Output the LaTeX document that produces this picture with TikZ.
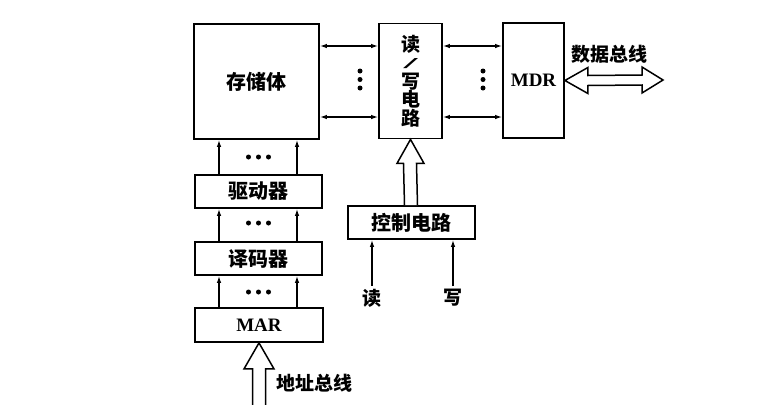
\documentclass[tikz,border=0pt]{standalone}
\usepackage{fontspec}
\setmainfont{Liberation Serif}
\newfontfamily\cjk{Noto Sans CJK SC}
\usetikzlibrary{arrows.meta,calc}
\begin{document}
\begin{tikzpicture}[x=1pt,y=-1pt,
  box/.style={draw,line width=1.8pt,inner sep=0pt,font=\cjk\bfseries\fontsize{20}{22}\selectfont},
  lbl/.style={font=\cjk\bfseries\fontsize{19}{21}\selectfont,inner sep=0pt},
  latin/.style={font=\bfseries\fontsize{19}{21}\selectfont},
  arr/.style={line width=1.2pt,-{Latex[length=7pt,width=4.5pt]}},
  barr/.style={line width=1.2pt,{Latex[length=7pt,width=4.5pt]}-{Latex[length=7pt,width=4.5pt]}},
  hollow/.style={draw,line width=1.5pt,line join=miter,fill=white},
  dot/.style={fill,circle,inner sep=0pt,minimum size=5pt}]
\useasboundingbox (0,0) rectangle (780,410);
% boxes
\node[box,minimum width=125pt,minimum height=115pt] (mem) at (256.5,81.5) {存储体};
\node[box,minimum width=63pt,minimum height=115pt,align=center,
      font=\cjk\bfseries\fontsize{19}{18.5}\selectfont] (rw) at (410.5,81)
  {读\\\raisebox{1pt}{\resizebox{14pt}{10pt}{\normalfont\bfseries /}}\\写\\电\\路};
\node[box,minimum width=61pt,minimum height=115pt,latin] (mdr) at (533.5,80.5) {MDR};
\node[box,minimum width=127pt,minimum height=33pt] (drv) at (258.5,191.5) {驱动器};
\node[box,minimum width=127pt,minimum height=33pt] (dec) at (258.5,258.5) {译码器};
\node[box,minimum width=128pt,minimum height=34pt,latin] (mar) at (259,325) {MAR};
\node[box,minimum width=127pt,minimum height=33pt] (ctl) at (411.5,222.5) {控制电路};
% row / column coordinates
\coordinate (r1) at (0,46);
\coordinate (r2) at (0,117);
\coordinate (c1) at (219,0);
\coordinate (c2) at (297,0);
% horizontal bidirectional arrows
\draw[barr] (mem.east |- r1) -- (rw.west |- r1);
\draw[barr] (mem.east |- r2) -- (rw.west |- r2);
\draw[barr] (rw.east |- r1) -- (mdr.west |- r1);
\draw[barr] (rw.east |- r2) -- (mdr.west |- r2);
% vertical dots
\foreach \yy in {71,79.5,88}{
  \node[dot] (vd1) at (360,\yy) {};
  \node[dot] (vd2) at (483,\yy) {};
}
% vertical arrows in left column
\draw[arr] (drv.north -| c1) -- (mem.south -| c1);
\draw[arr] (drv.north -| c2) -- (mem.south -| c2);
\draw[arr] (dec.north -| c1) -- (drv.south -| c1);
\draw[arr] (dec.north -| c2) -- (drv.south -| c2);
\draw[arr] (mar.north -| c1) -- (dec.south -| c1);
\draw[arr] (mar.north -| c2) -- (dec.south -| c2);
% horizontal dots
\foreach \yy in {157,223,292}{
  \foreach \xx in {248.5,258.5,268.5}{
    \node[dot] (hd) at (\xx,\yy) {};
  }
}
% hollow arrow control -> rw
\draw[hollow] ($(ctl.north)+(-7,0)$) -- ($(rw.south)+(-7,24)$) -- ($(rw.south)+(-13.5,24)$)
  -- (rw.south) -- ($(rw.south)+(13.5,24)$) -- ($(rw.south)+(6,24)$) -- ($(ctl.north)+(6,0)$);
% hollow arrow address bus -> MAR
\coordinate (abl) at ($(mar.south)+(-6.5,62)$);
\coordinate (abr) at ($(mar.south)+(6.5,62)$);
\draw[hollow] (abl) -- ($(mar.south)+(-6.5,26)$) -- ($(mar.south)+(-15,26)$)
  -- (mar.south) -- ($(mar.south)+(15,26)$) -- ($(mar.south)+(6.5,26)$) -- (abr);
\node[lbl,anchor=west] (abus) at (276,383) {地址总线};
% data bus double hollow arrow
\coordinate (dtip) at (663,80);
\draw[hollow] (mdr.east) -- ($(mdr.east)+(23,-13)$) -- ($(mdr.east)+(23,-5)$) -- ($(dtip)+(-21,-5)$)
  -- ($(dtip)+(-21,-13)$) -- (dtip) -- ($(dtip)+(-21,13)$) -- ($(dtip)+(-21,5)$)
  -- ($(mdr.east)+(23,5)$) -- ($(mdr.east)+(23,13)$) -- cycle;
\node[lbl] (dbus) at (609,54) {数据总线};
% read / write inputs
\node[lbl] (rd) at (372,298) {读};
\node[lbl] (wr) at (453,298) {写};
\draw[arr] ($(rd.north)+(0,-3)$) -- (ctl.south -| rd);
\draw[arr] ($(wr.north)+(0,-3)$) -- (ctl.south -| wr);
\end{tikzpicture}
\end{document}
